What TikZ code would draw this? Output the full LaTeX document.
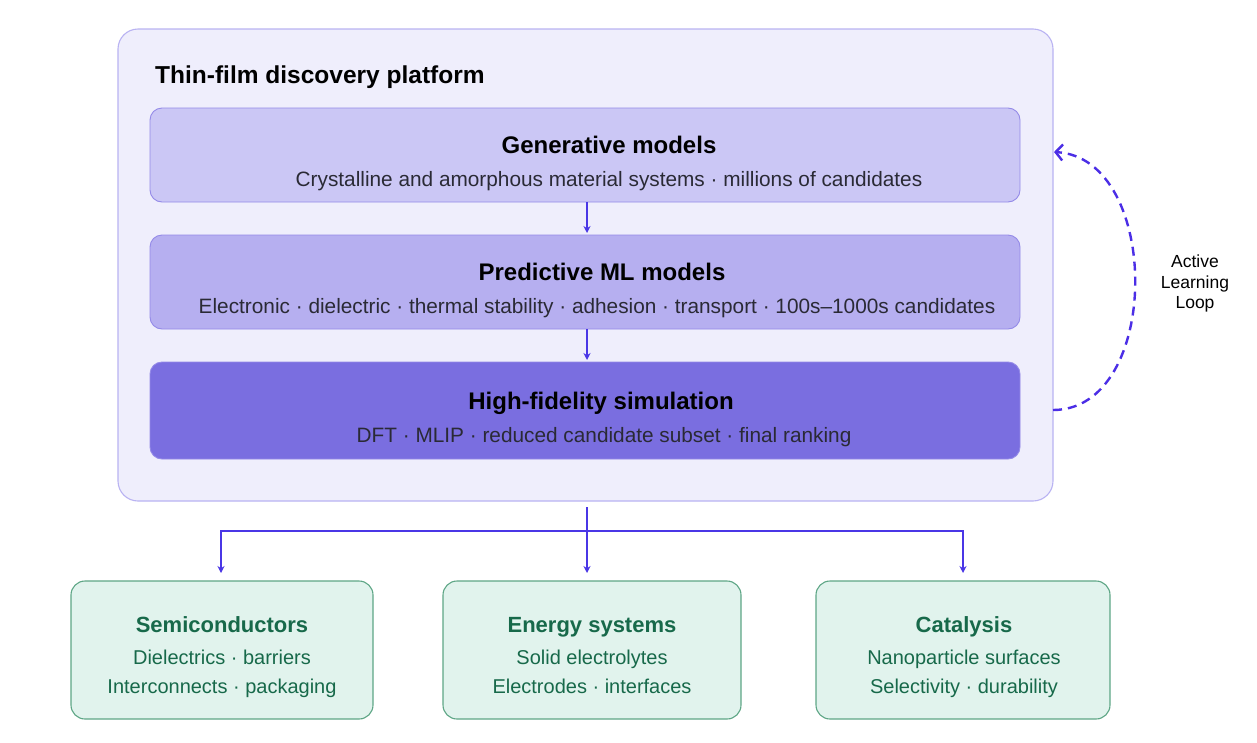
\documentclass[tikz,border=0pt]{standalone}
\usepackage{fontspec}
\setmainfont{Liberation Sans}
\usetikzlibrary{arrows.meta}
\definecolor{outerfill}{HTML}{EFEEFC}
\definecolor{outerdraw}{HTML}{B9B3F2}
\definecolor{boxa}{HTML}{CBC7F5}
\definecolor{boxb}{HTML}{B6AFF0}
\definecolor{boxc}{HTML}{7A6EE0}
\definecolor{boxdraw}{HTML}{948AE8}
\definecolor{arrowc}{HTML}{4A36E6}
\definecolor{loopc}{HTML}{4B2EE6}
\definecolor{greenfill}{HTML}{E1F3ED}
\definecolor{greendraw}{HTML}{5EA686}
\definecolor{greentext}{HTML}{17694A}
\definecolor{subtext}{HTML}{2A2A35}
\tikzset{
  stage/.style={draw=boxdraw, line width=0.9pt, rounded corners=12pt, minimum width=870pt, inner sep=0pt},
  appbox/.style={draw=greendraw, fill=greenfill, line width=1.1pt, rounded corners=14pt, minimum height=138pt, inner sep=0pt},
  stagetitle/.style={anchor=base, font=\fontsize{24}{28}\selectfont\bfseries, text=black, inner sep=0pt},
  stagesub/.style={anchor=base, font=\fontsize{20.8}{24}\selectfont, text=subtext, inner sep=0pt},
  apptitle/.style={anchor=base, font=\fontsize{22}{26}\selectfont\bfseries, text=greentext, inner sep=0pt},
  appsub/.style={anchor=base, font=\fontsize{20}{24}\selectfont, text=greentext, inner sep=0pt},
  conn/.style={draw=arrowc, line width=1.2pt, -{Stealth[length=7pt,width=7pt]}},
  loopline/.style={draw=loopc, line width=2.4pt, dash pattern=on 9pt off 6pt, -{Straight Barb[length=7pt,width=16pt,line width=2.4pt]}}
}
\begin{document}
\begin{tikzpicture}[x=1pt,y=-1pt]
\useasboundingbox (0,0) rectangle (1257,742);
\fill[white] (0,0) rectangle (1257,742);
% outer platform box
\node (platform) [draw=outerdraw, fill=outerfill, line width=1.1pt, rounded corners=20pt,
  minimum width=935pt, minimum height=472pt, inner sep=0pt] at (585.5,265) {};
\node (ptitle) [anchor=base west, font=\fontsize{24.5}{28}\selectfont\bfseries, inner sep=0pt] at (155,83) {Thin-film discovery platform};
% stages
\node (gen) [stage, fill=boxa, minimum height=94pt] at (585,155) {};
\node (gent) [stagetitle] at (609,153) {Generative models};
\node (gens) [stagesub] at (609,186) {Crystalline and amorphous material systems · millions of candidates};
\node (pred) [stage, fill=boxb, minimum height=94pt] at (585,282) {};
\node (predt) [stagetitle] at (602,280) {Predictive ML models};
\node (preds) [stagesub] at (597,313) {Electronic · dielectric · thermal stability · adhesion · transport · 100s–1000s candidates};
\node (hifi) [stage, fill=boxc, minimum height=97pt] at (585,410.5) {};
\node (hifit) [stagetitle] at (601,409) {High-fidelity simulation};
\node (hifis) [stagesub] at (604,442) {DFT · MLIP · reduced candidate subset · final ranking};
% stage arrows
\coordinate (a1s) at (587,202);
\coordinate (a1e) at (587,233);
\coordinate (a2s) at (587,329);
\coordinate (a2e) at (587,360);
\draw[conn] (a1s) -- (a1e);
\draw[conn] (a2s) -- (a2e);
% active learning loop
\coordinate (ls) at (1053,410);
\coordinate (le) at (1054,152);
\draw[loopline] (ls) .. controls (1162,410) and (1162,158) .. (le);
\node (loopt1) [anchor=base, font=\fontsize{17.5}{21}\selectfont, inner sep=0pt] at (1195,267) {Active};
\node (loopt2) [anchor=base, font=\fontsize{17.5}{21}\selectfont, inner sep=0pt] at (1195,288) {Learning};
\node (loopt3) [anchor=base, font=\fontsize{17.5}{21}\selectfont, inner sep=0pt] at (1195,308) {Loop};
% application boxes
\node (semi) [appbox, minimum width=302pt] at (222,650) {};
\node (semit) [apptitle] at (222,632) {Semiconductors};
\node (semis1) [appsub] at (222,664) {Dielectrics · barriers};
\node (semis2) [appsub] at (222,693) {Interconnects · packaging};
\node (energy) [appbox, minimum width=298pt] at (592,650) {};
\node (energyt) [apptitle] at (592,632) {Energy systems};
\node (energys1) [appsub] at (592,664) {Solid electrolytes};
\node (energys2) [appsub] at (592,693) {Electrodes · interfaces};
\node (cat) [appbox, minimum width=294pt] at (963,650) {};
\node (catt) [apptitle] at (964,632) {Catalysis};
\node (cats1) [appsub] at (964,664) {Nanoparticle surfaces};
\node (cats2) [appsub] at (964,693) {Selectivity · durability};
% distribution connectors
\coordinate (ds) at (587,507);
\coordinate (dj) at (587,531);
\coordinate (dl) at (221,531);
\coordinate (dr) at (963,531);
\coordinate (el) at (221,573);
\coordinate (em) at (587,573);
\coordinate (er) at (963,573);
\draw[conn] (ds) -- (em);
\draw[conn] (dj) -- (dl) -- (el);
\draw[conn] (dj) -- (dr) -- (er);
\end{tikzpicture}
\end{document}
